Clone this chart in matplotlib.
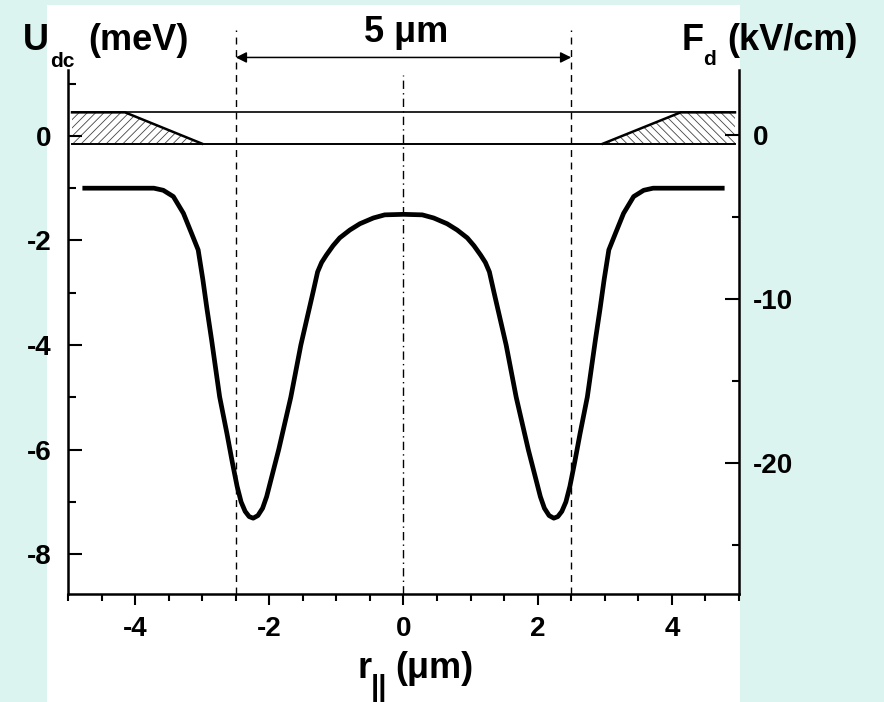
import matplotlib.pyplot as plt
import matplotlib.patches as mpatches
from matplotlib.ticker import MultipleLocator

# U_dc(r) (meV vs um)
r_um = [-4.75, -3.72, -3.58, -3.43, -3.28, -3.16, -3.06, -2.99, -2.93, -2.86,
        -2.74, -2.63, -2.55, -2.48, -2.42, -2.36, -2.30, -2.24, -2.17, -2.10,
        -2.04, -1.96, -1.86, -1.68, -1.53, -1.44, -1.35, -1.28, -1.22, -1.15,
        -1.05, -0.95, -0.80, -0.65, -0.45, -0.28, 0.00,
        0.28, 0.45, 0.65, 0.80, 0.95, 1.05, 1.15, 1.22, 1.28, 1.35,
        1.44, 1.53, 1.68, 1.86, 1.96, 2.04, 2.10, 2.17, 2.24, 2.30,
        2.36, 2.42, 2.48, 2.55, 2.63, 2.74, 2.86, 2.93, 2.99, 3.06,
        3.16, 3.28, 3.43, 3.58, 3.72, 4.75]
u_dc = [-1.00, -1.00, -1.04, -1.16, -1.48, -1.86, -2.18, -2.75, -3.30, -3.90,
        -4.99, -5.70, -6.25, -6.70, -7.00, -7.18, -7.28, -7.31, -7.26, -7.12,
        -6.90, -6.50, -6.00, -5.00, -4.00, -3.50, -3.00, -2.60, -2.42, -2.28,
        -2.10, -1.95, -1.80, -1.68, -1.57, -1.51, -1.50,
        -1.51, -1.57, -1.68, -1.80, -1.95, -2.10, -2.28, -2.42, -2.60, -3.00,
        -3.50, -4.00, -5.00, -6.00, -6.50, -6.90, -7.12, -7.26, -7.31, -7.28,
        -7.18, -7.00, -6.70, -6.25, -5.70, -4.99, -3.90, -3.30, -2.75, -2.18,
        -1.86, -1.48, -1.16, -1.04, -1.00, -1.00]

# electrode sketch (gate plates)
plate_top = 0.45
plate_bot = -0.15
plate_x = [-4.94, 4.94]
left_gate_x = [-4.94, -4.15, -3.00, -4.94]
right_gate_x = [4.94, 4.13, 2.97, 4.94]
gate_y = [plate_top, plate_top, plate_bot, plate_bot]

gap_x = [-2.5, 2.5]

W, H = 884, 702
plt.rcParams['font.family'] = ['Liberation Sans', 'DejaVu Sans']
plt.rcParams['font.weight'] = 'bold'
plt.rcParams['axes.unicode_minus'] = False
plt.rcParams['hatch.linewidth'] = 0.6
plt.rcParams['hatch.color'] = '#444444'
fig = plt.figure(figsize=(W / 100, H / 100), dpi=100, facecolor='#dcf4f0')

# white panel behind the plot
fig.patches.append(mpatches.Rectangle((47 / W, 0), (740 - 47) / W, (702 - 5) / H,
                                      transform=fig.transFigure, facecolor='white',
                                      edgecolor='none', zorder=-5))

ax = fig.add_axes([68 / W, 1 - 594 / H, 671 / W, 524 / H])
ax.set_facecolor('none')
ax.set_xlim(-5, 5)
ax.set_ylim(-8.76, 1.26)

ax.plot(r_um, u_dc, color='k', lw=3.4, solid_joinstyle='round')

ax.plot(plate_x, [plate_top, plate_top], color='k', lw=1.2)
ax.fill(left_gate_x, gate_y, facecolor='white', hatch='////', edgecolor='#444444', lw=0)
ax.fill(right_gate_x, gate_y, facecolor='white', hatch='\\\\\\\\', edgecolor='#444444', lw=0)
ax.plot(left_gate_x[:3], gate_y[:3], color='k', lw=1.8)
ax.plot(right_gate_x[:3], gate_y[:3], color='k', lw=1.8)
ax.plot(plate_x, [plate_bot, plate_bot], color='k', lw=1.4)

for gx in gap_x:
    ax.plot([gx, gx], [-8.76, 2.03], color='k', lw=1.0, ls=(0, (5, 4)), clip_on=False)
ax.plot([0, 0], [-8.76, 1.17], color='k', lw=1.0, ls=(0, (6, 3, 1, 3)), clip_on=False)
ax.annotate('', xy=(gap_x[1], 1.5), xytext=(gap_x[0], 1.5),
            arrowprops=dict(arrowstyle='<|-|>', color='k', lw=1.1, mutation_scale=16,
                            shrinkA=0, shrinkB=0),
            annotation_clip=False)

ax.xaxis.set_major_locator(MultipleLocator(2))
ax.xaxis.set_minor_locator(MultipleLocator(0.5))
ax.yaxis.set_major_locator(MultipleLocator(2))
ax.yaxis.set_minor_locator(MultipleLocator(1))
ax.tick_params(axis='x', which='major', direction='out', length=8, width=1.5, labelsize=20, pad=8)
ax.tick_params(axis='x', which='minor', direction='out', length=5, width=1.5)
ax.tick_params(axis='y', which='major', direction='in', length=10, width=1.5, labelsize=20, pad=12)
ax.tick_params(axis='y', which='minor', direction='in', length=6, width=1.5)
ax.spines['top'].set_visible(False)
ax.spines['right'].set_visible(False)
for s in ['left', 'bottom']:
    ax.spines[s].set_linewidth(1.8)
for lab in ax.get_xticklabels() + ax.get_yticklabels():
    lab.set_fontweight('bold')

ax2 = ax.twinx()
ax2.set_ylim(-28, 4)
ax2.yaxis.set_major_locator(MultipleLocator(10))
ax2.yaxis.set_minor_locator(MultipleLocator(5))
ax2.tick_params(axis='y', which='major', direction='in', length=10, width=1.5, labelsize=20, pad=10)
ax2.tick_params(axis='y', which='minor', direction='in', length=5, width=1.5)
for s in ['top', 'left', 'bottom']:
    ax2.spines[s].set_visible(False)
ax2.spines['right'].set_linewidth(1.8)
for lab in ax2.get_yticklabels():
    lab.set_fontweight('bold')


def ftext(x, y, s, size, **kw):
    fig.text(x / W, 1 - y / H, s, fontsize=size, fontweight='bold', va='baseline', **kw)


ftext(23, 50, 'U', 26)
ftext(50, 67, 'dc', 15)
ftext(88, 50, '(meV)', 26)
ftext(682, 50, 'F', 26)
ftext(703, 65, 'd', 15)
ftext(727, 50, '(kV/cm)', 26)
ftext(406, 42, '5 \u03bcm', 26, ha='center')
ftext(357, 678, 'r', 26)
ftext(371, 696, '||', 21)
ftext(395, 678, '(\u03bcm)', 26)

fig.savefig('out.png', dpi=100, facecolor=fig.get_facecolor())
